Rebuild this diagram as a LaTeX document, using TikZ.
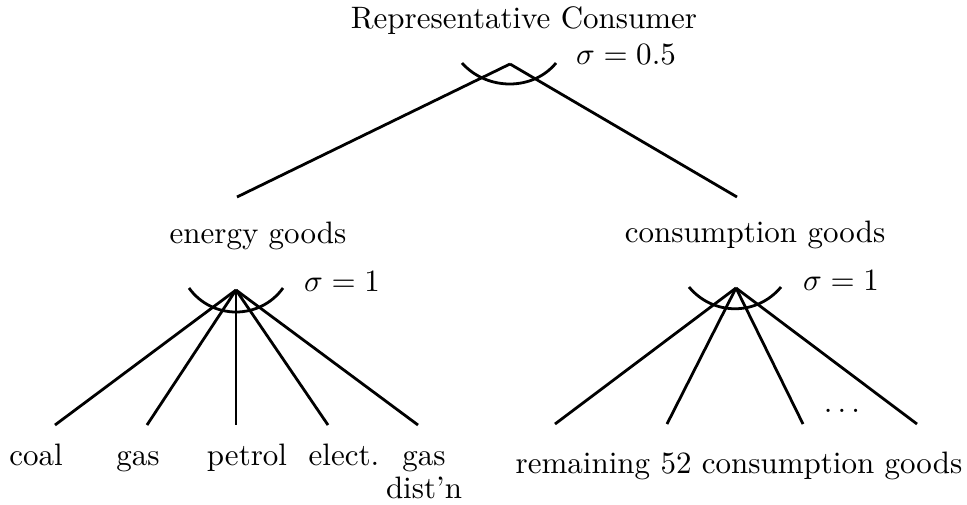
\documentclass[tikz,border=0pt]{standalone}
\usepackage{tikz}
\usetikzlibrary{positioning}

\begin{document}
\begin{tikzpicture}[x=0.01134cm, y=-0.01134cm, line width=0.9pt,
  lbl/.style={anchor=base, inner sep=0pt}]
\useasboundingbox (0,0) rectangle (967,504);
% nests
\coordinate (top) at (510,64);
\coordinate (en) at (236,290);
\coordinate (cn) at (736,288);
\coordinate (etop) at (237,197);
\coordinate (ctop) at (737,197);
% labels
\node[lbl] (rc) at (524,28) {Representative Consumer};
\node[lbl] (s0) at (626,64) {$\sigma = 0.5$};
\node[lbl] (eg) at (258,243) {energy goods};
\node[lbl] (cg) at (755,242) {consumption goods};
\node[lbl] (s1) at (342,291) {$\sigma = 1$};
\node[lbl] (s2) at (841,290) {$\sigma = 1$};
\node[lbl] (coal) at (36,465) {coal};
\node[lbl] (gas) at (138,465) {gas};
\node[lbl] (petrol) at (247,465) {petrol};
\node[lbl] (elect) at (344,465) {elect.};
\node[lbl, align=center] (gasd) at (424,498) {gas\\[-1.4pt]dist'n};
\node[lbl] (rest) at (739,473) {remaining 52 consumption goods};
\node (dots) at (842,411) {$\dots$};
% branch ends
\foreach \n/\x in {e1/55, e2/147, e3/236, e4/328, e5/418}
  \coordinate (\n) at (\x,425);
\foreach \n/\x in {c1/555, c2/667, c3/803, c4/917}
  \coordinate (\n) at (\x,424);
% branches
\draw (top) -- (etop);
\draw (top) -- (ctop);
\foreach \n in {e1,e2,e3,e4,e5}
  \draw (en) -- (\n);
\foreach \n in {c1,c2,c3,c4}
  \draw (cn) -- (\n);
% substitution arcs
\draw (462,63) .. controls (487,91) and (533,91) .. (556,63);
\draw (189,288) .. controls (212,320) and (260,320) .. (283,288);
\draw (689,287) .. controls (713,316) and (757,316) .. (781,287);
\end{tikzpicture}
\end{document}
